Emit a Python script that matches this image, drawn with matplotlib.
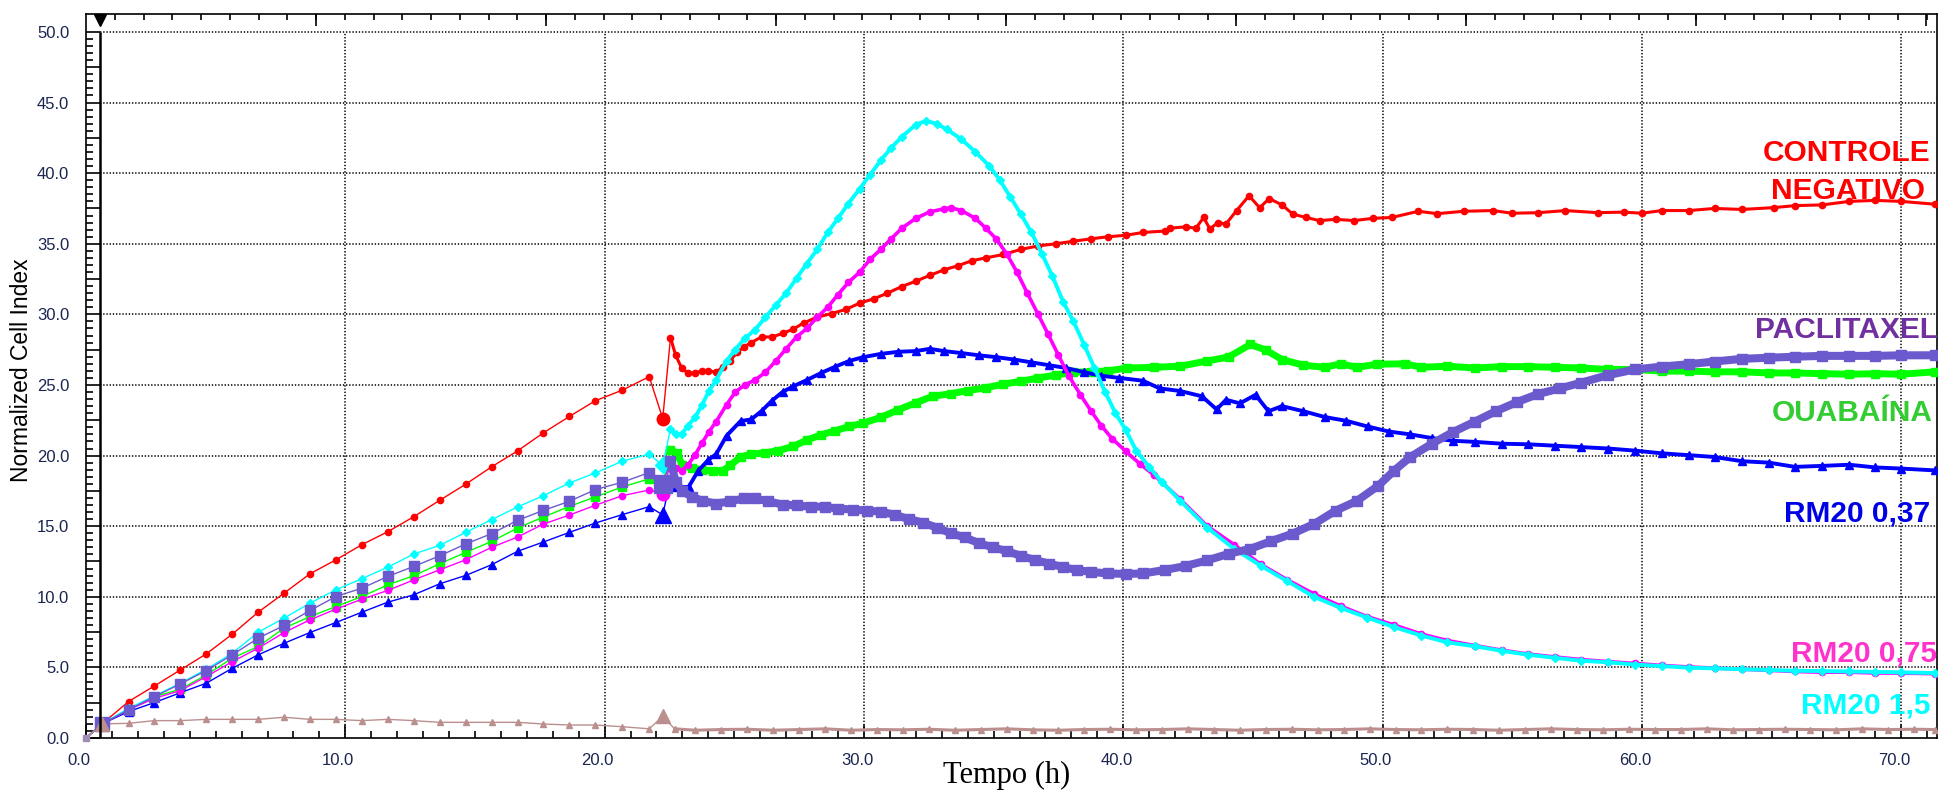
import matplotlib
matplotlib.use("Agg")
import matplotlib.pyplot as plt
from matplotlib.ticker import FixedLocator, FuncFormatter
from matplotlib.transforms import ScaledTranslation

plt.rcParams['font.family'] = ['Liberation Sans', 'DejaVu Sans']
plt.rcParams['lines.scale_dashes'] = False

# sweep times (h) before the treatment, shared by every well
t_pre = [0.0, 0.62, 1.64, 2.64, 3.64, 4.64, 5.64, 6.64, 7.64, 8.64, 9.64, 10.64,
         11.64, 12.64, 13.64, 14.64, 15.64, 16.64, 17.64, 18.64, 19.64, 20.68, 21.72]
t_treat = 22.24

red_pre = [0, 1.0, 2.58, 3.69, 4.82, 5.96, 7.35, 8.91, 10.26, 11.63, 12.62, 13.69, 14.61,
           15.67, 16.83, 17.97, 19.20, 20.33, 21.61, 22.77, 23.88, 24.63, 25.59]
red_treat = 22.62
red_t = [22.54, 22.74, 22.97, 23.2, 23.49, 23.76, 24.0, 24.3, 24.57, 24.84, 25.1, 25.38, 25.65,
         26.05, 26.46, 26.86, 27.27, 27.68, 28.2, 28.76, 29.3, 29.84, 30.38, 30.9, 31.46, 32.0,
         32.54, 33.08, 33.62, 34.16, 34.7, 35.38, 36.05, 36.73, 37.4, 38.08, 38.76, 39.43, 40.1,
         40.76, 41.6, 41.8, 42.4, 42.8, 43.1, 43.34, 43.65, 43.96, 44.37, 44.85, 45.26, 45.63,
         46.12, 46.54, 47.05, 47.57, 48.19, 48.9, 49.63, 50.35, 51.38, 52.1, 53.13, 54.27, 54.99,
         56.0, 57.05, 58.3, 59.3, 60.0, 60.76, 61.8, 62.8, 63.86, 65.1, 65.9, 66.95, 68.0, 69.0,
         70.0, 71.3]
red_v = [28.35, 27.1, 26.2, 25.85, 25.85, 26.0, 26.0, 25.9, 26.3, 26.7, 27.3, 27.7, 28.0,
         28.4, 28.4, 28.65, 28.95, 29.4, 29.8, 30.06, 30.35, 30.8, 31.1, 31.5, 31.97, 32.35,
         32.76, 33.15, 33.44, 33.8, 34.0, 34.24, 34.6, 34.85, 35.0, 35.18, 35.35, 35.5, 35.6,
         35.8, 35.9, 36.1, 36.2, 36.1, 36.86, 36.05, 36.5, 36.4, 37.35, 38.4, 37.55, 38.2,
         37.75, 37.1, 36.86, 36.64, 36.73, 36.64, 36.8, 36.86, 37.3, 37.13, 37.3, 37.35, 37.16,
         37.2, 37.35, 37.2, 37.24, 37.16, 37.35, 37.35, 37.5, 37.43, 37.56, 37.7, 37.75, 38.0, 38.07,
         38.0, 37.8]

cyan_pre = [0, 1.0, 2.1, 2.98, 3.88, 4.87, 6.0, 7.49, 8.49, 9.55, 10.5, 11.28, 12.1, 13.03,
            13.64, 14.56, 15.46, 16.36, 17.16, 18.06, 18.77, 19.6, 20.1]
cyan_treat = 19.3
cyan_t = [22.54, 22.74, 22.97, 23.2, 23.49, 23.76, 24.03, 24.3, 24.7, 25.04, 25.4, 25.8, 26.2,
          26.6, 27.0, 27.4, 27.8, 28.2, 28.6, 29.0, 29.4, 29.84, 30.24, 30.65, 31.05, 31.46, 32.0,
          32.4, 32.8, 33.2, 33.76, 34.3, 34.84, 35.24, 35.65, 36.05, 36.46, 36.86, 37.27, 37.68,
          38.08, 38.49, 38.89, 39.3, 39.7, 40.1, 40.5, 41.0, 41.5, 42.2, 43.24, 44.27, 45.3, 46.33,
          47.36, 48.4, 49.4, 50.45, 51.5, 52.5, 53.55, 54.6, 55.6, 56.64, 57.67, 58.7, 59.73, 60.76,
          61.8, 62.8, 63.86, 64.9, 65.9, 66.95, 68.0, 69.0, 70.0, 71.3]
cyan_v = [21.9, 21.5, 21.5, 22.1, 22.7, 23.6, 24.6, 25.35, 26.7, 27.5, 28.3, 28.9, 29.8,
          30.65, 31.5, 32.56, 33.6, 34.6, 35.8, 36.8, 37.85, 38.9, 39.9, 40.9, 41.8, 42.56, 43.44,
          43.7, 43.5, 43.1, 42.4, 41.5, 40.5, 39.5, 38.3, 37.1, 35.8, 34.3, 32.7, 30.9,
          29.5, 27.85, 26.2, 24.5, 23.0, 21.8, 20.35, 19.2, 18.1, 16.8, 14.9, 13.4, 12.2, 11.1,
          10.0, 9.2, 8.53, 7.85, 7.25, 6.77, 6.5, 6.17, 5.9, 5.68, 5.47, 5.36, 5.2, 5.09,
          4.98, 4.93, 4.87, 4.82, 4.76, 4.74, 4.71, 4.68, 4.65, 4.6]

magenta_pre = [0, 1.0, 1.99, 2.81, 3.36, 4.35, 5.41, 6.36, 7.47, 8.37, 9.13, 9.83, 10.45, 11.2,
               11.91, 12.62, 13.5, 14.23, 15.15, 15.79, 16.48, 17.16, 17.56]
magenta_treat = 17.3
magenta_t = [22.54, 22.74, 22.97, 23.2, 23.49, 23.76, 24.03, 24.3, 24.7, 25.04, 25.4, 25.8, 26.2,
             26.6, 27.0, 27.4, 27.8, 28.2, 28.6, 29.0, 29.4, 29.84, 30.24, 30.65, 31.05, 31.46,
             32.0, 32.54, 33.08, 33.35, 33.76, 34.3, 34.7, 35.1, 35.5, 35.9, 36.3, 36.7, 37.1,
             37.5, 37.9, 38.35, 38.76, 39.16, 39.57, 40.1, 40.65, 41.2, 42.2, 43.24, 44.27, 45.3,
             46.33, 47.36, 48.4, 49.4, 50.45, 51.5, 52.5, 53.55, 54.6, 55.6, 56.64, 57.67, 58.7,
             59.73, 60.76, 61.8, 62.8, 63.86, 64.9, 65.9, 66.95, 68.0, 69.0, 70.0, 71.3]
magenta_v = [19.5, 19.1, 18.94, 19.3, 20.06, 20.9, 21.7, 22.4, 23.6, 24.5, 25.0, 25.35, 25.9,
             26.7, 27.56, 28.4, 29.0, 29.8, 30.5, 31.4, 32.26, 33.0, 33.9, 34.6, 35.35, 36.1,
             36.8, 37.26, 37.47, 37.56, 37.35, 36.8, 36.1, 35.35, 34.3, 33.0, 31.5, 30.06, 28.6,
             27.1, 25.65, 24.3, 23.15, 22.1, 21.2, 20.3, 19.4, 18.6, 16.9, 15.0, 13.7, 12.3,
             11.2, 10.2, 9.33, 8.6, 8.0, 7.36, 6.9, 6.55, 6.22, 5.95, 5.74, 5.55, 5.41,
             5.28, 5.14, 5.03, 4.95, 4.87, 4.79, 4.71, 4.66, 4.66, 4.6, 4.6, 4.55]

blue_pre = [0, 1.0, 1.87, 2.51, 3.21, 3.88, 4.94, 5.89, 6.71, 7.47, 8.18, 8.91, 9.62, 10.14,
            10.92, 11.51, 12.27, 13.22, 13.88, 14.56, 15.22, 15.82, 16.38]
blue_treat = 15.8
blue_t = [22.54, 22.74, 23.24, 23.6, 24.0, 24.3, 24.7, 25.24, 25.65, 26.05, 26.46, 26.86, 27.27,
          27.8, 28.35, 28.9, 29.43, 29.97, 30.65, 31.32, 32.0, 32.54, 33.08, 33.76, 34.43, 35.1,
          35.8, 36.46, 37.14, 37.8, 38.5, 39.16, 39.84, 40.76, 41.4, 42.2, 43.03, 43.6, 43.96,
          44.5, 45.1, 45.6, 46.12, 46.95, 47.77, 48.6, 49.42, 50.25, 51.07, 51.9, 52.7, 53.55,
          54.6, 55.6, 56.64, 57.67, 58.7, 59.73, 60.76, 61.8, 62.8, 63.86, 64.9, 65.9, 66.95,
          68.0, 69.0, 70.0, 71.3]
blue_v = [18.3, 17.75, 17.78, 18.9, 19.7, 20.1, 21.4, 22.44, 22.56, 23.15, 23.9, 24.5, 24.9,
          25.35, 25.85, 26.3, 26.7, 26.97, 27.2, 27.35, 27.4, 27.56, 27.4, 27.26, 27.1, 26.97,
          26.8, 26.6, 26.4, 26.2, 25.9, 25.65, 25.5, 25.3, 24.76, 24.57, 24.2, 23.27, 23.95,
          23.7, 24.3, 23.14, 23.5, 23.14, 22.73, 22.46, 22.06, 21.7, 21.5, 21.24, 21.05, 20.97,
          20.84, 20.8, 20.7, 20.6, 20.5, 20.35, 20.16, 20.03, 19.9, 19.6, 19.5, 19.2, 19.27,
          19.35, 19.16, 19.08, 18.95]

green_pre = [0, 1.0, 2.0, 2.93, 3.45, 4.47, 5.65, 6.48, 7.78, 8.6, 9.31, 10.02, 10.85, 11.49,
             12.34, 13.14, 13.92, 14.87, 15.65, 16.4, 17.07, 17.78, 18.35]
green_treat = 18.0
green_t = [22.54, 22.78, 23.0, 23.35, 23.76, 24.16, 24.57, 24.84, 25.24, 25.65, 26.2, 26.7, 27.27,
           27.8, 28.35, 28.9, 29.43, 29.97, 30.65, 31.32, 32.0, 32.65, 33.35, 34.0, 34.7, 35.38,
           36.05, 36.73, 37.4, 38.08, 38.76, 39.43, 40.14, 41.2, 42.2, 43.24, 44.06, 44.9, 45.5,
           46.12, 46.95, 47.77, 48.4, 49.0, 49.8, 50.87, 51.5, 52.5, 53.55, 54.6, 55.6, 56.64,
           57.67, 58.7, 59.73, 60.76, 61.8, 62.8, 63.86, 64.9, 65.9, 66.95, 68.0, 69.0, 70.0, 71.3]
green_v = [20.4, 20.2, 19.3, 19.1, 19.0, 18.9, 18.94, 19.3, 19.9, 20.1, 20.2, 20.35, 20.65,
           21.1, 21.47, 21.76, 22.06, 22.3, 22.7, 23.24, 23.74, 24.2, 24.38, 24.6, 24.8, 25.06,
           25.26, 25.5, 25.7, 25.9, 25.94, 26.0, 26.2, 26.25, 26.33, 26.7, 26.98, 27.87, 27.47,
           26.8, 26.4, 26.25, 26.5, 26.25, 26.47, 26.5, 26.25, 26.33, 26.2, 26.3, 26.3, 26.25,
           26.2, 26.1, 26.1, 25.98, 25.98, 25.93, 25.93, 25.85, 25.85, 25.8, 25.76, 25.8, 25.76, 25.93]

purple_pre = [0, 1.0, 2.0, 2.93, 3.83, 4.78, 5.89, 7.07, 7.97, 9.03, 10.02, 10.61, 11.44, 12.15,
              12.9, 13.74, 14.47, 15.41, 16.12, 16.76, 17.59, 18.11, 18.8]
purple_treat = 18.0
purple_t = [22.54, 22.74, 23.0, 23.35, 23.76, 24.3, 24.84, 25.38, 25.8, 26.3, 26.86, 27.4, 27.95,
            28.5, 29.0, 29.57, 30.1, 30.65, 31.2, 31.73, 32.27, 32.8, 33.35, 33.9, 34.43, 34.97,
            35.5, 36.05, 36.6, 37.14, 37.68, 38.2, 38.76, 39.43, 40.1, 40.76, 41.6, 42.4, 43.24,
            44.06, 44.9, 45.7, 46.54, 47.36, 48.19, 49.0, 49.83, 50.45, 51.07, 51.9, 52.7, 53.55,
            54.37, 55.2, 56.0, 56.85, 57.67, 58.7, 59.73, 60.76, 61.8, 62.8, 63.86, 64.9, 65.9,
            66.95, 68.0, 69.0, 70.0, 71.3]
purple_v = [19.6, 18.15, 17.47, 17.1, 16.8, 16.6, 16.76, 16.97, 16.97, 16.76, 16.53, 16.47, 16.38,
            16.38, 16.24, 16.18, 16.1, 16.03, 15.8, 15.5, 15.26, 14.9, 14.5, 14.2, 13.8, 13.5,
            13.24, 12.9, 12.6, 12.35, 12.1, 11.9, 11.76, 11.65, 11.62, 11.65, 11.9, 12.18, 12.58,
            13.04, 13.4, 13.94, 14.48, 15.16, 16.1, 16.78, 17.86, 18.94, 19.9, 20.84, 21.65, 22.4,
            23.14, 23.8, 24.36, 24.76, 25.17, 25.7, 26.1, 26.3, 26.47, 26.66, 26.85, 26.93, 27.0,
            27.06, 27.06, 27.06, 27.1, 27.1]

brown_pre = [0, 1.0, 1.04, 1.23, 1.23, 1.32, 1.32, 1.32, 1.47, 1.32, 1.32, 1.23, 1.32, 1.23,
             1.11, 1.11, 1.11, 1.11, 0.99, 0.92, 0.92, 0.8, 0.65]
brown_treat = 1.53
brown_t = [22.7, 23.5, 24.5, 25.5, 26.5, 27.5, 28.5, 29.5, 30.5, 31.5, 32.5, 33.5, 34.5, 35.5,
           36.5, 37.5, 38.5, 39.5, 40.5, 41.5, 42.5, 43.5, 44.5, 45.5, 46.5, 47.5, 48.5, 49.5,
           50.5, 51.5, 52.5, 53.5, 54.5, 55.5, 56.5, 57.5, 58.5, 59.5, 60.5, 61.5, 62.5, 63.5,
           64.5, 65.5, 66.5, 67.5, 68.5, 69.5, 70.5, 71.3]
brown_v = [0.65, 0.55, 0.6, 0.62, 0.55, 0.6, 0.65, 0.55, 0.6, 0.58,
           0.62, 0.55, 0.6, 0.65, 0.58, 0.55, 0.6, 0.62, 0.58, 0.6,
           0.65, 0.6, 0.55, 0.6, 0.62, 0.58, 0.6, 0.65, 0.6, 0.58,
           0.62, 0.6, 0.55, 0.6, 0.65, 0.6, 0.58, 0.62, 0.6, 0.6,
           0.65, 0.58, 0.6, 0.62, 0.6, 0.58, 0.65, 0.6, 0.62, 0.6]

labels = ["CONTROLE", "NEGATIVO", "PACLITAXEL", "OUABAÍNA", "RM20 0,37", "RM20 0,75", "RM20 1,5"]
label_colors = ["#ff0000", "#ff0000", "#7030a0", "#33cc33", "#0000e6", "#ff33cc", "#00ffff"]
label_y = [40.85, 38.2, 28.35, 22.45, 15.35, 5.42, 1.77]
label_x = [71.13, 70.9, 71.4, 71.23, 71.13, 71.38, 71.13]

XMAX = 71.38
YMAX = 51.27
SPINE_X = 0.55
TICK_COLOR = "#1a2550"


def plot_data(ax):
    # (pre values, value at treatment, post times, post values, colour, marker, size, post width, z)
    series = [
        (red_pre, red_treat, red_t, red_v, "#ff0000", "o", 4.5, 2.2, 3),
        (green_pre, green_treat, green_t, green_v, "#00ff00", "s", 5.5, 5.0, 4),
        (blue_pre, blue_treat, blue_t, blue_v, "#0000ff", "^", 5.5, 2.8, 5),
        (magenta_pre, magenta_treat, magenta_t, magenta_v, "#ff00ff", "o", 4.5, 2.6, 6),
        (cyan_pre, cyan_treat, cyan_t, cyan_v, "#00ffff", "D", 4.2, 2.8, 7),
        (purple_pre, purple_treat, purple_t, purple_v, "#6a5acd", "s", 6.5, 5.8, 8),
        (brown_pre, brown_treat, brown_t, brown_v, "#bc8f8f", "^", 5.0, 2.2, 9),
    ]
    for pre, treat, tp, vp, col, mk, ms, lw, z in series:
        xs = t_pre + [t_treat] + tp
        ys = pre + [treat] + vp
        ax.plot(xs, ys, color=col, lw=1.0, zorder=z, clip_on=False)
        ax.plot(t_pre[1:], pre[1:], ls="none", marker=mk, ms=ms, color=col, mec=col, zorder=z)
        ax.plot(tp, vp, color=col, lw=lw, marker=mk, ms=ms, mec=col, zorder=z,
                solid_joinstyle="round")
        ax.plot([t_treat], [treat], marker=mk, ms=ms * 2.0, color=col, mec=col, zorder=z + 0.5)
    # normalisation point
    ax.plot([t_pre[1]], [purple_pre[1]], marker="s", ms=10, color="#6a5acd", zorder=9)
    ax.plot([t_pre[1]], [brown_pre[1]], marker="^", ms=10, color="#bc8f8f", zorder=9.5)
    ax.plot([0], [0], marker="s", ms=5, color="#a08cb4", zorder=9, clip_on=False)

    for lab, col, x, y in zip(labels, label_colors, label_x, label_y):
        ax.text(x, y, lab, color=col, fontsize=21.5, fontweight="bold", ha="right",
                va="baseline", zorder=12)


def set_properties(fig, ax):
    ax.set_xlim(0, XMAX)
    ax.set_ylim(0, YMAX)

    # dotted grid, drawn only inside the 0..50 frame
    dots = (0, (1.0, 1.3))
    ax.hlines([5, 10, 15, 20, 25, 30, 35, 40, 45, 50], SPINE_X, XMAX, colors="black",
              linestyles=dots, lw=1.1, zorder=1)
    ax.vlines([10, 20, 30, 40, 50, 60, 70], 0, 50, colors="black", linestyles=dots,
              lw=1.1, zorder=1)
    ax.vlines(SPINE_X, 0, 50, colors="black", lw=1.8, zorder=10)
    ax.plot([SPINE_X], [50.85], marker="v", ms=9, color="black", clip_on=False, zorder=11)

    for s in ax.spines.values():
        s.set_linewidth(1.2)

    ax.xaxis.set_major_locator(FixedLocator([0, 10, 20, 30, 40, 50, 60, 70]))
    ax.xaxis.set_minor_locator(FixedLocator([h for h in range(1, 72) if h % 10]))
    ax.xaxis.set_major_formatter(FuncFormatter(lambda v, p: f"{v:.1f}"))
    ax.yaxis.set_major_locator(FixedLocator([k * 2.5 for k in range(21)]))
    ax.yaxis.set_minor_locator(FixedLocator([k * 0.5 for k in range(101) if k % 5]))
    ax.yaxis.set_major_formatter(FuncFormatter(lambda v, p: f"{v:.1f}" if abs(v % 5) < 1e-6 else ""))

    ax.tick_params(axis="x", which="major", direction="in", length=9.5, width=1.2,
                   pad=11, labelsize=12, labelcolor=TICK_COLOR, top=False)
    ax.tick_params(axis="x", which="minor", direction="in", length=5, width=1.2, top=False)
    ax.tick_params(axis="y", which="major", direction="in", length=10, width=1.2,
                   pad=12, labelsize=12, labelcolor=TICK_COLOR, right=False)
    ax.tick_params(axis="y", which="minor", direction="in", length=5, width=1.2, right=False)
    shift = ScaledTranslation(-7 / 100, 0, fig.dpi_scale_trans)
    for lab in ax.get_xticklabels():
        lab.set_transform(lab.get_transform() + shift)

    # sweep ticks along the top edge
    top = ax.twiny()
    top.set_xlim(0, XMAX)
    top.xaxis.set_major_locator(FixedLocator([8.87 * k for k in range(1, 9)]))
    top.xaxis.set_minor_locator(FixedLocator([1.109 * k for k in range(1, 65)]))
    top.tick_params(axis="x", which="major", direction="in", length=8.5, width=1.2,
                    labeltop=False, top=True, bottom=False)
    top.tick_params(axis="x", which="minor", direction="in", length=4.3, width=1.2,
                    top=True, bottom=False)
    for s in top.spines.values():
        s.set_visible(False)

    fig.text(1007 / 1939, (792 - 783) / 792, "Tempo (h)", family="Liberation Serif",
             fontsize=22, ha="center", va="baseline")
    fig.text(22 / 1939, 1 - 370 / 792, "Normalized Cell Index", fontsize=16.5,
             rotation=90, ha="center", va="center")


def main():
    fig = plt.figure(figsize=(19.39, 7.92), dpi=100)
    ax = fig.add_axes([86 / 1939, 54 / 792, 1851 / 1939, 724 / 792])
    plot_data(ax)
    set_properties(fig, ax)
    fig.savefig("out.png", dpi=100)


if __name__ == "__main__":
    main()
